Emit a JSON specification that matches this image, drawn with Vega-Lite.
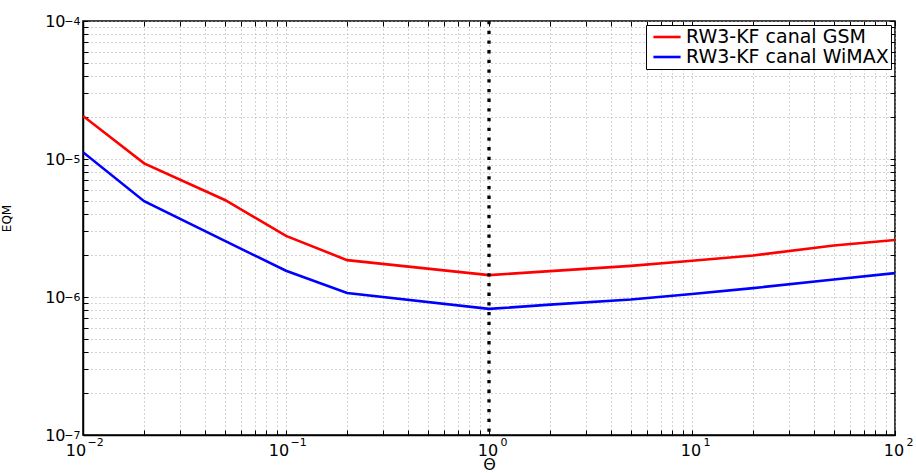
{
  "$schema": "https://vega.github.io/schema/vega-lite/v6.json",
  "width": 812,
  "height": 414,
  "autosize": {"type": "none"},
  "padding": {"left": 83, "top": 21, "right": 21, "bottom": 38},
  "background": "white",
  "config": {
    "font": "DejaVu Sans",
    "view": {"stroke": "black", "strokeWidth": 1.5},
    "axis": {
      "gridColor": "#a8a8a8",
      "gridDash": [1, 3],
      "gridWidth": 1,
      "domainColor": "black",
      "domainWidth": 1.5,
      "tickColor": "black",
      "tickWidth": 1,
      "labelColor": "black",
      "titleColor": "black",
      "labelFont": "DejaVu Sans",
      "titleFont": "DejaVu Sans",
      "titleFontWeight": "normal",
      "labelOverlap": false,
      "labelFlush": false
    }
  },
  "resolve": {"axis": {"x": "independent", "y": "independent"}},
  "datasets": {
    "curves": [
      {"theta": 0.01, "eqm": 2.05e-5, "serie": "RW3-KF canal GSM"},
      {"theta": 0.02, "eqm": 9.3e-6, "serie": "RW3-KF canal GSM"},
      {"theta": 0.05, "eqm": 5.05e-6, "serie": "RW3-KF canal GSM"},
      {"theta": 0.1, "eqm": 2.77e-6, "serie": "RW3-KF canal GSM"},
      {"theta": 0.2, "eqm": 1.85e-6, "serie": "RW3-KF canal GSM"},
      {"theta": 1, "eqm": 1.44e-6, "serie": "RW3-KF canal GSM"},
      {"theta": 2, "eqm": 1.54e-6, "serie": "RW3-KF canal GSM"},
      {"theta": 5, "eqm": 1.68e-6, "serie": "RW3-KF canal GSM"},
      {"theta": 10, "eqm": 1.83e-6, "serie": "RW3-KF canal GSM"},
      {"theta": 20, "eqm": 2.0e-6, "serie": "RW3-KF canal GSM"},
      {"theta": 50, "eqm": 2.36e-6, "serie": "RW3-KF canal GSM"},
      {"theta": 100, "eqm": 2.59e-6, "serie": "RW3-KF canal GSM"},
      {"theta": 0.01, "eqm": 1.12e-5, "serie": "RW3-KF canal WiMAX"},
      {"theta": 0.02, "eqm": 4.95e-6, "serie": "RW3-KF canal WiMAX"},
      {"theta": 0.05, "eqm": 2.55e-6, "serie": "RW3-KF canal WiMAX"},
      {"theta": 0.1, "eqm": 1.55e-6, "serie": "RW3-KF canal WiMAX"},
      {"theta": 0.2, "eqm": 1.07e-6, "serie": "RW3-KF canal WiMAX"},
      {"theta": 1, "eqm": 8.2e-7, "serie": "RW3-KF canal WiMAX"},
      {"theta": 2, "eqm": 8.8e-7, "serie": "RW3-KF canal WiMAX"},
      {"theta": 5, "eqm": 9.6e-7, "serie": "RW3-KF canal WiMAX"},
      {"theta": 10, "eqm": 1.05e-6, "serie": "RW3-KF canal WiMAX"},
      {"theta": 20, "eqm": 1.16e-6, "serie": "RW3-KF canal WiMAX"},
      {"theta": 50, "eqm": 1.34e-6, "serie": "RW3-KF canal WiMAX"},
      {"theta": 100, "eqm": 1.49e-6, "serie": "RW3-KF canal WiMAX"}
    ],
    "marker": [{"theta": 1}]
  },
  "layer": [
    {
      "data": {"name": "curves"},
      "mark": {"type": "line", "strokeWidth": 2.6, "clip": true},
      "encoding": {
        "x": {
          "field": "theta",
          "type": "quantitative",
          "scale": {"type": "log", "domain": [0.01, 100], "nice": false},
          "axis": {
            "orient": "bottom",
            "grid": true,
            "title": "Θ",
            "titleFontSize": 16,
            "titleY": 34,
            "titleBaseline": "alphabetic",
            "values": [0.01,0.02,0.03,0.04,0.05,0.06,0.07,0.08,0.09,0.1,0.2,0.3,0.4,0.5,0.6,0.7,0.8,0.9,1,2,3,4,5,6,7,8,9,10,20,30,40,50,60,70,80,90,100],
            "labelExpr": "datum.value == 0.01 || datum.value == 0.1 || datum.value == 1 || datum.value == 10 || datum.value == 100 ? '10' : ''",
            "labelFontSize": 16,
            "labelPadding": 12,
            "labelOffset": {"condition": {"test": "datum.value < 0.5", "value": -7.5}, "value": -1.5},
            "ticks": true,
            "tickSize": -5
          }
        },
        "y": {
          "field": "eqm",
          "type": "quantitative",
          "scale": {"type": "log", "domain": [1e-7, 1e-4], "nice": false},
          "axis": {
            "orient": "left",
            "grid": true,
            "title": "EQM",
            "titleFontSize": 12,
            "titleX": -70,
            "titleY": 197,
            "values": [1e-7,2e-7,3e-7,4e-7,5e-7,6e-7,7e-7,8e-7,9e-7,1e-6,2e-6,3e-6,4e-6,5e-6,6e-6,7e-6,8e-6,9e-6,1e-5,2e-5,3e-5,4e-5,5e-5,6e-5,7e-5,8e-5,9e-5,1e-4],
            "labelExpr": "datum.value == 1e-7 || datum.value == 1e-6 || datum.value == 1e-5 || datum.value == 1e-4 ? '10' : ''",
            "labelFontSize": 16,
            "labelPadding": 23,
            "ticks": true,
            "tickSize": -5
          }
        },
        "color": {
          "field": "serie",
          "type": "nominal",
          "scale": {"domain": ["RW3-KF canal GSM", "RW3-KF canal WiMAX"], "range": ["#ff0000", "#0000ff"]},
          "legend": {
            "title": null,
            "orient": "top-right",
            "offset": 4,
            "fillColor": "white",
            "strokeColor": "black",
            "padding": 2,
            "symbolType": "M-1.6,0H1.6",
            "symbolSize": 289,
            "symbolStrokeWidth": 2.6,
            "labelFontSize": 19,
            "labelFont": "DejaVu Sans",
            "labelColor": "black",
            "labelLimit": 400,
            "rowPadding": -2,
            "labelOffset": 9,
            "symbolOffset": 9
          }
        }
      }
    },
    {
      "data": {"name": "marker"},
      "mark": {"type": "rule", "color": "black", "strokeWidth": 3.3, "strokeDash": [3.3, 6.4]},
      "encoding": {
        "x": {"field": "theta", "type": "quantitative", "axis": null}
      }
    },
    {
      "data": {"name": "curves"},
      "mark": {"type": "point", "opacity": 0},
      "encoding": {
        "x": {
          "field": "theta",
          "type": "quantitative",
          "axis": {
            "orient": "bottom",
            "grid": false,
            "domain": false,
            "title": null,
            "values": [0.01, 0.1, 1, 10, 100],
            "labelExpr": "datum.value == 0.01 ? '−2' : datum.value == 0.1 ? '−1' : datum.value == 1 ? '0' : datum.value == 10 ? '1' : '2'",
            "labelFontSize": 11,
            "labelAlign": "left",
            "labelPadding": 1,
            "labelOffset": {"condition": {"test": "datum.value < 0.5", "value": 4}, "value": 11},
            "ticks": false
          }
        },
        "y": {
          "field": "eqm",
          "type": "quantitative",
          "axis": {
            "orient": "left",
            "grid": false,
            "domain": false,
            "title": null,
            "values": [1e-7, 1e-6, 1e-5, 1e-4],
            "labelExpr": "datum.value == 1e-7 ? '−7' : datum.value == 1e-6 ? '−6' : datum.value == 1e-5 ? '−5' : '−4'",
            "labelFontSize": 11,
            "labelPadding": 3,
            "labelDy": -7,
            "ticks": false
          }
        }
      }
    },
    {
      "data": {"name": "curves"},
      "mark": {"type": "point", "opacity": 0},
      "encoding": {
        "x": {
          "field": "theta",
          "type": "quantitative",
          "axis": {
            "orient": "top",
            "grid": false,
            "domain": false,
            "title": null,
            "labels": false,
            "values": [0.01,0.02,0.03,0.04,0.05,0.06,0.07,0.08,0.09,0.1,0.2,0.3,0.4,0.5,0.6,0.7,0.8,0.9,1,2,3,4,5,6,7,8,9,10,20,30,40,50,60,70,80,90,100],
            "ticks": true,
            "tickSize": -5
          }
        },
        "y": {
          "field": "eqm",
          "type": "quantitative",
          "axis": {
            "orient": "right",
            "grid": false,
            "domain": false,
            "title": null,
            "labels": false,
            "values": [1e-7,2e-7,3e-7,4e-7,5e-7,6e-7,7e-7,8e-7,9e-7,1e-6,2e-6,3e-6,4e-6,5e-6,6e-6,7e-6,8e-6,9e-6,1e-5,2e-5,3e-5,4e-5,5e-5,6e-5,7e-5,8e-5,9e-5,1e-4],
            "ticks": true,
            "tickSize": -5
          }
        }
      }
    }
  ]
}
